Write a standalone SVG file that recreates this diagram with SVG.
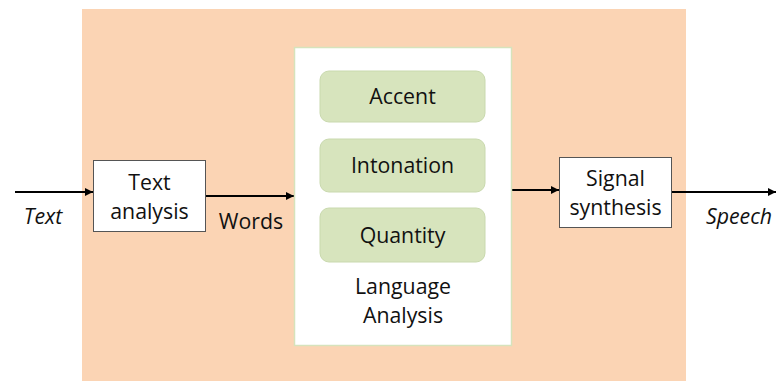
<svg xmlns="http://www.w3.org/2000/svg" width="776" height="381" viewBox="0 0 776 381">
<defs>
<style>
.t{font-family:"Open Sans","Liberation Sans",sans-serif;font-size:21.3px;fill:#111;text-anchor:middle}
.i{font-style:italic}
.box{fill:#fff;stroke:#555;stroke-width:1}
.g{fill:#D7E4BD;stroke:#C9D9AE;stroke-width:1}
.c{stroke:#000;stroke-width:2;fill:none;marker-end:url(#ah)}
</style>
<marker id="ah" viewBox="0 0 10 10" refX="10" refY="5" markerWidth="4" markerHeight="4" orient="auto" markerUnits="strokeWidth">
<path d="M0,0 L10,5 L0,10 z" fill="#000"/>
</marker>
</defs>
<rect id="background" x="82" y="9" width="604" height="372" fill="#FBD4B4"/>
<g id="connectors">
<line class="c" x1="15" y1="192" x2="93" y2="192"/>
<line class="c" x1="206" y1="196" x2="294" y2="196"/>
<line class="c" x1="512" y1="190" x2="559" y2="190"/>
<line class="c" x1="672" y1="192" x2="776" y2="192"/>
</g>
<g id="label-text"><text class="t i" x="43" y="224">Text</text></g>
<g id="label-words"><text class="t" x="251" y="229">Words</text></g>
<g id="label-speech"><text class="t i" x="739" y="224">Speech</text></g>
<g id="text-analysis">
<rect class="box" x="93.5" y="160.5" width="112" height="71"/>
<text class="t" x="149.5" y="190">Text</text>
<text class="t" x="149.5" y="219">analysis</text>
</g>
<g id="language-analysis">
<rect x="294.5" y="47.5" width="217" height="298" fill="#fff" stroke="#D6E3BC" stroke-width="1.5"/>
<text class="t" x="403" y="294">Language</text>
<text class="t" x="403" y="323">Analysis</text>
</g>
<g id="accent">
<rect class="g" x="320" y="71" width="165" height="51" rx="9"/>
<text class="t" x="402.5" y="104">Accent</text>
</g>
<g id="intonation">
<rect class="g" x="320" y="139" width="165" height="53" rx="9"/>
<text class="t" x="402.5" y="173">Intonation</text>
</g>
<g id="quantity">
<rect class="g" x="320" y="208" width="165" height="54" rx="9"/>
<text class="t" x="402.5" y="243">Quantity</text>
</g>
<g id="signal-synthesis">
<rect class="box" x="559.5" y="157.5" width="112" height="70"/>
<text class="t" x="615.5" y="186">Signal</text>
<text class="t" x="615.5" y="215">synthesis</text>
</g>
</svg>
